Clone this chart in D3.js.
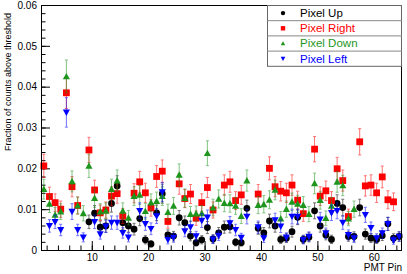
<!DOCTYPE html>
<meta charset="utf-8">
<style>
    body { margin: 0; background: #fff; }
    svg { font-family: "Liberation Sans", Arial, sans-serif; }
    .frame { fill: none; stroke: #000; stroke-width: 1px; }
    .axis path { display: none; }
    .axis line { stroke: #000; }
    .axis text { font-size: 10px; fill: #000; }
    .ebar { stroke-width: 1px; opacity: 0.55; }
    .legend-box { fill: #fff; stroke: #666; stroke-width: 1px; }
    .legend-sep { stroke: #888; stroke-width: 1px; }
</style>

<body>
    <script src="https://cdnjs.cloudflare.com/ajax/libs/d3/7.8.5/d3.min.js"></script>
    <script>
        // PMT pins 1..64, fraction of counts above threshold (null = no neighbour / not shown)
        var pins = d3.range(1, 65);

        var pixelUp = [
            null, null, null, null, null, null, null, null,
            0.0069, 0.0090, 0.0056, 0.0059, 0.0114, 0.0157, 0.0067, 0.0059,
            0.0051, 0.0077, 0.0025, 0.0015, 0.0091, 0.0138, 0.0037, 0.0034,
            0.0079, 0.0067, 0.0034, 0.0018, 0.0025, 0.0055, 0.0027, 0.0042,
            0.0056, 0.0057, 0.0019, 0.0018, 0.0102, null, 0.0053, 0.0042,
            0.0071, 0.0059, 0.0026, 0.0029, 0.0045, 0.0080, 0.0026, 0.0031,
            0.0096, 0.0059, 0.0037, 0.0026, 0.0114, 0.0104, 0.0033, 0.0033,
            0.0104, 0.0039, 0.0029, 0.0026, 0.0035, 0.0064, 0.0029, 0.0033
        ];
        var pixelRight = [
            0.0206, 0.0131, 0.0116, 0.0100, 0.0385, 0.0155, 0.0109, null,
            0.0245, 0.0147, 0.0091, 0.0098, 0.0132, 0.0138, 0.0083, null,
            0.0139, 0.0167, 0.0140, 0.0103, 0.0180, 0.0193, 0.0070, null,
            0.0162, 0.0126, 0.0137, 0.0078, 0.0116, 0.0153, 0.0098, null,
            0.0159, 0.0167, 0.0121, 0.0135, null, null, 0.0137, null,
            0.0200, 0.0155, 0.0144, 0.0140, 0.0159, 0.0122, 0.0089, null,
            0.0247, 0.0132, 0.0145, 0.0121, 0.0199, 0.0170, 0.0082, null,
            0.0265, 0.0157, 0.0159, 0.0140, 0.0179, 0.0123, 0.0118, null
        ];
        var pixelDown = [
            0.0149, 0.0113, 0.0086, 0.0094, 0.0425, 0.0168, 0.0109, 0.0090,
            0.0206, 0.0127, 0.0094, 0.0096, 0.0149, 0.0170, 0.0096, 0.0079,
            0.0132, 0.0135, 0.0095, 0.0116, 0.0120, 0.0132, 0.0093, 0.0108,
            0.0184, 0.0127, 0.0088, 0.0089, 0.0090, 0.0237, 0.0104, 0.0125,
            0.0115, 0.0114, 0.0108, 0.0083, 0.0170, null, 0.0110, 0.0112,
            0.0123, 0.0147, 0.0077, 0.0100, 0.0118, 0.0113, 0.0110, 0.0088,
            0.0163, 0.0122, 0.0078, 0.0108, 0.0167, 0.0158, 0.0077, 0.0100,
            null, null, null, null, null, null, null, null
        ];
        var pixelLeft = [
            null, 0.0059, 0.0069, 0.0049, 0.0337, 0.0094, 0.0049, 0.0031,
            null, 0.0069, 0.0039, 0.0058, 0.0067, 0.0067, 0.0042, 0.0031,
            null, 0.0096, 0.0064, 0.0052, 0.0083, 0.0142, 0.0025, 0.0030,
            null, 0.0046, 0.0056, 0.0034, 0.0072, 0.0080, 0.0026, 0.0035,
            null, 0.0066, 0.0049, 0.0030, 0.0082, null, 0.0056, 0.0029,
            null, 0.0073, 0.0058, 0.0031, 0.0082, 0.0082, 0.0025, 0.0033,
            null, 0.0075, 0.0041, 0.0091, 0.0096, 0.0067, 0.0037, 0.0029,
            null, 0.0086, 0.0054, 0.0029, 0.0041, 0.0064, 0.0024, 0.0033
        ];

        var seriesNames = ["Pixel Up", "Pixel Right", "Pixel Down", "Pixel Left"];
        var seriesColors = ["#000000", "#ff0000", "#1e961e", "#0000ff"];
        var seriesMarkers = ["circle", "square", "triangleUp", "triangleDown"];
        var seriesValues = [pixelUp, pixelRight, pixelDown, pixelLeft];

        // events per pin, used for the binomial error bars
        var nEvents = 2500;

        var yTicks = [0, 0.01, 0.02, 0.03, 0.04, 0.05, 0.06];
        var xTicks = [10, 20, 30, 40, 50, 60];

        var W = 407, H = 274;
        var frame = { left: 41, right: 402, top: 5, bottom: 250 };

        var svg = d3.select("body").append("svg")
            .attr("width", W)
            .attr("height", H);

        var x = d3.scaleLinear().domain([1, 65]).range([frame.left, frame.right]);
        var y = d3.scaleLinear().domain([0, 0.06]).range([frame.bottom, frame.top]);

        // marker path, centred on 0,0
        function markerPath(type, s) {
            if (type == "circle") {
                return d3.symbol().type(d3.symbolCircle).size(Math.PI * s * s)();
            }
            if (type == "square") {
                return "M" + (-s) + "," + (-s) + "H" + s + "V" + s + "H" + (-s) + "Z";
            }
            if (type == "triangleUp") {
                return "M0," + (-s * 1.05) + "L" + (s * 1.05) + "," + (s * 0.85) + "L" + (-s * 1.05) + "," + (s * 0.85) + "Z";
            }
            return "M0," + (s * 1.05) + "L" + (s * 1.05) + "," + (-s * 0.85) + "L" + (-s * 1.05) + "," + (-s * 0.85) + "Z";
        }

        // Axes (ticks inside the frame, ROOT style)
        svg.append("g")
            .attr("class", "axis")
            .attr("transform", "translate(" + frame.left + ",0)")
            .call(d3.axisLeft(y).tickValues(d3.range(0, 0.0601, 0.002)).tickSize(-4.5).tickFormat(""));
        svg.append("g")
            .attr("class", "axis")
            .attr("transform", "translate(" + frame.left + ",0)")
            .call(d3.axisLeft(y).tickValues(yTicks).tickSize(-9).tickPadding(4)
                .tickFormat(function (d) { return d == 0 ? "0" : d3.format(".2f")(d); }));

        svg.append("g")
            .attr("class", "axis")
            .attr("transform", "translate(0," + frame.bottom + ")")
            .call(d3.axisBottom(x).tickValues(d3.range(2, 65, 2)).tickSize(-4.5).tickFormat(""));
        svg.append("g")
            .attr("class", "axis")
            .attr("transform", "translate(0," + frame.bottom + ")")
            .call(d3.axisBottom(x).tickValues(xTicks).tickSize(-9).tickPadding(3.5));

        // Data: error bars then markers, series in legend order
        seriesValues.forEach(function (vals, si) {
            var pts = pins.map(function (p, i) {
                return { pin: p, v: vals[i] };
            }).filter(function (d) { return d.v != null; });
            var col = seriesColors[si];

            var g = svg.append("g");
            var eb = g.selectAll(".eb")
                .data(pts)
                .enter().append("g")
                .attr("class", "ebar")
                .attr("stroke", col);
            function err(d) { return Math.sqrt(d.v * (1 - d.v) / nEvents); }
            eb.append("line")
                .attr("x1", d => x(d.pin + 0.5)).attr("x2", d => x(d.pin + 0.5))
                .attr("y1", d => y(d.v - err(d))).attr("y2", d => y(d.v + err(d)));
            eb.append("line")
                .attr("x1", d => x(d.pin + 0.5) - 1.5).attr("x2", d => x(d.pin + 0.5) + 1.5)
                .attr("y1", d => y(d.v - err(d))).attr("y2", d => y(d.v - err(d)));
            eb.append("line")
                .attr("x1", d => x(d.pin + 0.5) - 1.5).attr("x2", d => x(d.pin + 0.5) + 1.5)
                .attr("y1", d => y(d.v + err(d))).attr("y2", d => y(d.v + err(d)));

            g.selectAll(".mk")
                .data(pts)
                .enter().append("path")
                .attr("d", markerPath(seriesMarkers[si], 3.4))
                .attr("fill", col)
                .attr("transform", d => "translate(" + x(d.pin + 0.5) + "," + y(d.v) + ")");
        });

        // Frame
        svg.append("rect")
            .attr("class", "frame")
            .attr("x", frame.left + 0.5)
            .attr("y", frame.top + 0.5)
            .attr("width", frame.right - frame.left - 1)
            .attr("height", frame.bottom - frame.top);

        // Axis titles
        svg.append("text")
            .attr("transform", "translate(11,13) rotate(-90)")
            .attr("text-anchor", "end")
            .attr("font-size", "9px")
            .text("Fraction of counts above threshold");
        svg.append("text")
            .attr("x", frame.right)
            .attr("y", 271)
            .attr("text-anchor", "end")
            .attr("font-size", "10px")
            .text("PMT Pin");

        // Legend
        var leg = { x: 267, y: 5, w: frame.right - 267, rowH: 15.2 };
        var lg = svg.append("g");
        lg.append("rect")
            .attr("class", "legend-box")
            .attr("x", leg.x + 0.5)
            .attr("y", leg.y + 0.5)
            .attr("width", leg.w - 1)
            .attr("height", leg.rowH * seriesNames.length);
        var rows = lg.selectAll(".row")
            .data(seriesNames)
            .enter().append("g")
            .attr("transform", (d, i) => "translate(" + leg.x + "," + (leg.y + leg.rowH * i) + ")");
        rows.filter((d, i) => i > 0).append("line")
            .attr("class", "legend-sep")
            .attr("x1", 0).attr("x2", leg.w)
            .attr("y1", 0.5).attr("y2", 0.5);
        rows.append("path")
            .attr("d", (d, i) => markerPath(seriesMarkers[i], 2.2))
            .attr("fill", (d, i) => seriesColors[i])
            .attr("transform", "translate(16," + (leg.rowH / 2 + 0.5) + ")");
        rows.append("text")
            .attr("x", 33)
            .attr("y", leg.rowH / 2 + 4.5)
            .attr("font-size", "11.5px")
            .attr("fill", (d, i) => seriesColors[i])
            .text(d => d);
    </script>
</body>
